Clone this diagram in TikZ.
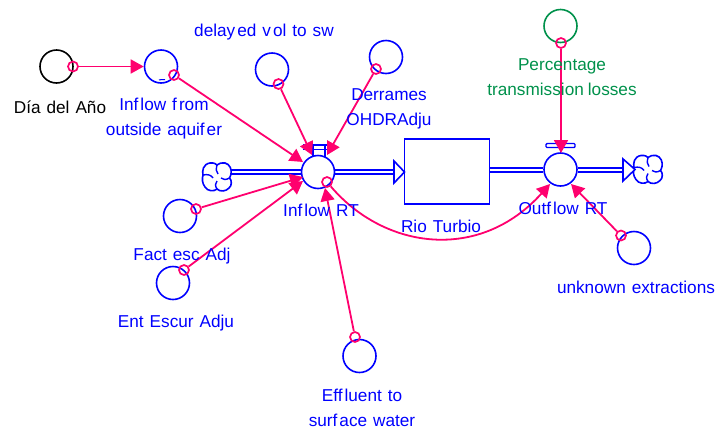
\documentclass[tikz,border=0pt]{standalone}
\usepackage{fontspec}
\setmainfont{Liberation Sans}[WordSpace=1.25]
\usetikzlibrary{arrows.meta}
\definecolor{bl}{RGB}{0,0,255}
\definecolor{pk}{RGB}{255,0,110}
\definecolor{gn}{RGB}{0,145,75}
\newcommand{\kk}{\kern2pt\relax}
\tikzset{
 aux/.style={circle,draw=#1,line width=1.6pt,minimum size=33pt,inner sep=0pt,fill=none},
 aux/.default=bl,
 tap/.style={circle,draw=pk,line width=1.7pt,minimum size=10pt,inner sep=0pt},
 lnk/.style={draw=pk,line width=1.8pt,-{Triangle[length=13pt,width=14pt]}},
 lab/.style={text=#1,font=\fontsize{17.2}{24.8}\selectfont,align=center,inner sep=0pt},
 lab/.default=bl,
 pipe/.style={draw=bl,line width=1.5pt},
 hd/.style={draw=bl,line width=1.6pt,fill=white,line join=miter},
 cloudp/.style={draw=bl,line width=1.6pt,fill=white},
 swirl/.style={draw=bl,line width=1.4pt}
}
\newcommand{\cloudat}[2]{%
 \begin{scope}[shift={(#1,#2)}]
 \path[cloudp] (-14,-2) .. controls (-15,-6) and (-14,-13) .. (-7,-14) .. controls (-3,-14.5) and (-1,-13) .. (0,-12)
   .. controls (2,-14) and (5,-14.5) .. (8,-14) .. controls (13,-13) and (15,-7) .. (14,-3) .. controls (13.5,-1) and (13,0) .. (12.5,1)
   .. controls (15,3) and (15,9) .. (12,11) .. controls (9,14.5) and (3,15) .. (0,12)
   .. controls (-3,15) and (-10,14) .. (-12,10) .. controls (-15,6) and (-15,2) .. (-14,-2) -- cycle;
 \draw[swirl] (-14,-2) .. controls (-9,-3) and (-6,-2) .. (-4,1);
 \draw[swirl] (0,-12) .. controls (-1,-8) and (-1,-5) .. (1,-3);
 \draw[swirl] (12.5,1) .. controls (9,3) and (6,3) .. (4,1);
 \draw[swirl] (0,12) .. controls (-2,9) and (-2,6) .. (0,4);
 \end{scope}}
\begin{document}
\begin{tikzpicture}[x=1pt,y=-1pt]
\useasboundingbox (0,0) rectangle (717,429);
% auxiliaries
\node[aux=black] (dia) at (56.5,66.5) {};
\node[aux] (inf) at (161,66.5) {};
\draw[bl,line width=1pt] (159,80) .. controls (161,78) and (162,81) .. (165,79.5);
\node[aux] (del) at (272,69.5) {};
\node[aux] (der) at (386,57) {};
\node[aux=gn] (pct) at (560.5,26) {};
\node[aux] (fac) at (180,216) {};
\node[aux] (ent) at (173,283) {};
\node[aux] (eff) at (359.5,356) {};
\node[aux] (unk) at (634,248) {};
\node[aux] (vin) at (318,172) {};
\node[aux] (vout) at (560.5,169.5) {};
% stock
\node[draw=bl,line width=1.5pt,minimum width=85pt,minimum height=65pt,inner sep=0pt] (rio) at (447,171.5) {};
% clouds
\cloudat{217}{177}
\cloudat{648}{169.5}
\coordinate (cl) at (231,172);
% pipes
\draw[pipe] ([yshift=-2pt]cl) -- ([yshift=-2pt]vin.west);
\draw[pipe] ([yshift=2pt]cl) -- ([yshift=2pt]vin.west);
\draw[pipe] ([yshift=-2pt]vin.east) -- +(62,0);
\draw[pipe] ([yshift=2pt]vin.east) -- +(62,0);
\draw[hd] (394,161) -- (404.5,172) -- (394,183) -- cycle;
\draw[pipe] (rio.east |- 0,168) -- (vout.west |- 0,168);
\draw[pipe] (rio.east |- 0,172) -- (vout.west |- 0,172);
\draw[pipe] (vout.east |- 0,168) -- (623,168);
\draw[pipe] (vout.east |- 0,172) -- (623,172);
\draw[hd] (623,159) -- (635,169.5) -- (623,181) -- cycle;
% valve tops
\draw[bl,line width=1.4pt] (313,145) -- (313,157);
\draw[bl,line width=1.4pt] (325,145) -- (325,157);
\draw[bl,line width=1.4pt] (303,145) -- (333,145) (303,149.5) -- (333,149.5);
\draw[bl,line width=1.4pt] (vout.north) -- ++(0,-6);
\draw[bl,line width=1.4pt,rounded corners=1pt] (546,143.5) rectangle (575,147.5);
% taps
\node[tap] (t1) at (73,66.5) {};
\node[tap] (t2) at (174,75) {};
\node[tap] (t3) at (278.5,84) {};
\node[tap] (t4) at (376,69) {};
\node[tap] (t5) at (561,43) {};
\node[tap] (t6) at (196,209) {};
\node[tap] (t7) at (184,270) {};
\node[tap] (t8) at (355,337) {};
\node[tap] (t9) at (621,235.5) {};
\node[tap] (t10) at (327,182) {};
\coordinate (e2) at (303,162);
\coordinate (e3) at (312,155);
\coordinate (e4) at (327,155);
\coordinate (e5) at (561,153);
\coordinate (e6) at (303,177);
\coordinate (e7) at (303,181);
\coordinate (e8) at (325,188);
\coordinate (e9) at (571,184);
\coordinate (e10) at (550,184);
% connectors
\draw[lnk] (t1) -- (inf.west);
\draw[lnk] (t2) -- (e2);
\draw[lnk] (t3) -- (e3);
\draw[lnk] (t4) -- (e4);
\draw[lnk] (t5) -- (e5);
\draw[lnk] (t6) -- (e6);
\draw[lnk] (t7) -- (e7);
\draw[lnk] (t8) -- (e8);
\draw[lnk] (t9) -- (e9);
\draw[lnk] (t10) .. controls (385,250) and (480,262) .. (e10);
% labels
\node[lab=black] at (60,107) {Día del Año};
\node[lab] at (164,118.5) {Inf\kk low f\kk rom\\outside aquif\kk er};
\node[lab] at (264,32.5) {delay\kk ed v\kk ol to sw};
\node[lab] at (389,108.5) {Derrames\\OHDRAdju};
\node[lab=gn] at (562,77.5) {Percentage\\transmission\kern4pt losses};
\node[lab] at (321,210) {Inf\kk low RT};
\node[lab] at (441,226) {Rio Turbio};
\node[lab] at (563,208) {Outf\kk low RT};
\node[lab] at (182,256) {Fact esc Adj};
\node[lab] at (176,323) {Ent Escur Adju};
\node[lab] at (636,287) {unknown extractions};
\node[lab] at (362,407.5) {Eff\kk luent to\\surf\kk ace water};
\end{tikzpicture}
\end{document}
